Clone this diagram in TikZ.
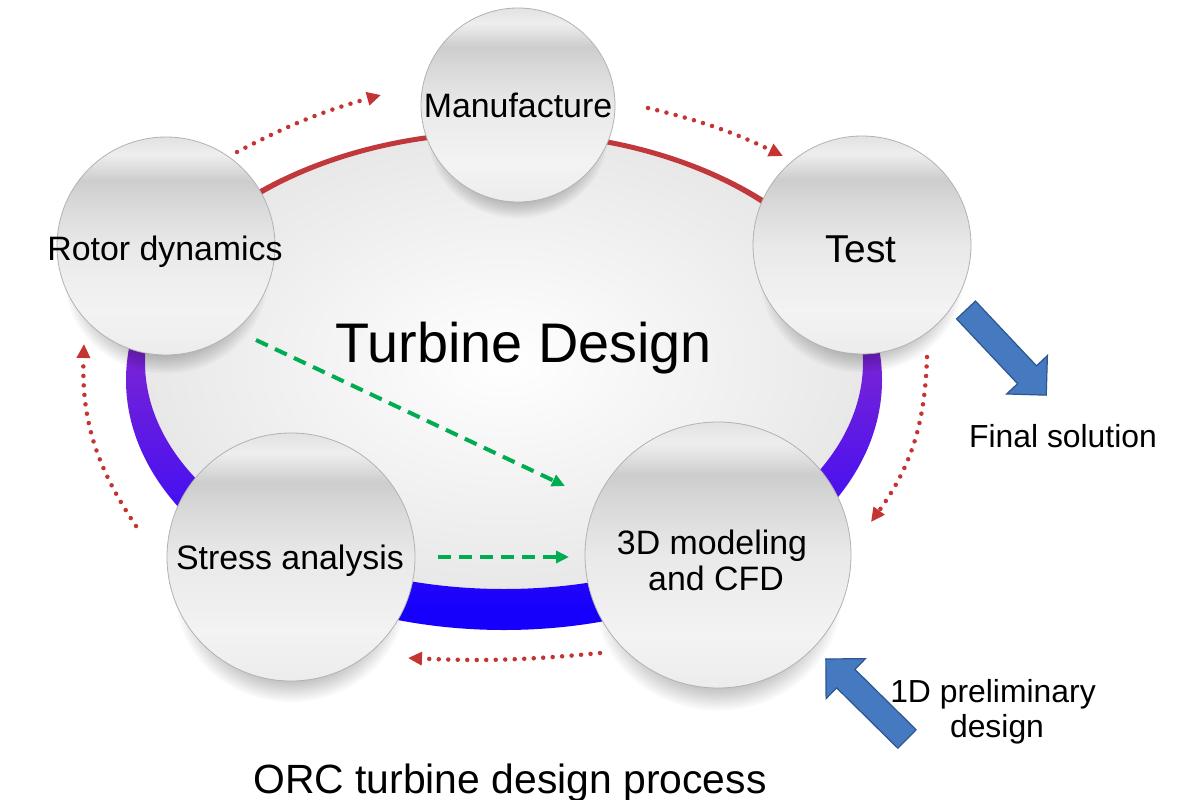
\documentclass[tikz,border=0pt]{standalone}
\usepackage{fontspec}
\setmainfont{Liberation Sans}
\usetikzlibrary{arrows.meta,calc}

\definecolor{bl0}{RGB}{226,226,226}
\definecolor{bl1}{RGB}{238,238,238}
\definecolor{bl2}{RGB}{205,205,205}
\definecolor{bl3}{RGB}{216,216,216}
\definecolor{bl4}{RGB}{233,233,233}
\definecolor{bl5}{RGB}{243,243,243}
\definecolor{bl6}{RGB}{236,236,236}
\definecolor{rb}{RGB}{22,0,252}
\definecolor{rbp}{RGB}{75,18,238}
\definecolor{rp}{RGB}{120,35,215}
\definecolor{rrp}{RGB}{165,45,130}
\definecolor{rr}{RGB}{192,55,60}
\definecolor{redarrow}{RGB}{196,52,50}
\definecolor{greenarrow}{RGB}{0,172,80}
\definecolor{blockblue}{RGB}{70,122,192}
\definecolor{blockedge}{RGB}{45,85,145}
\definecolor{innergray}{RGB}{232,232,232}

\pgfdeclareverticalshading{ballshade}{100bp}{color(0bp)=(bl6); color(25bp)=(bl6); color(35bp)=(bl5); color(50bp)=(bl4); color(60bp)=(bl3); color(65bp)=(bl2); color(71bp)=(bl1); color(75bp)=(bl0); color(100bp)=(bl0)}
\pgfdeclareverticalshading{ringshade}{100bp}{color(0bp)=(rb); color(27bp)=(rb); color(39bp)=(rbp); color(52bp)=(rp); color(62bp)=(rrp); color(68bp)=(rr); color(100bp)=(rr)}

\newcommand\ballshadow[3]{%
  \foreach \s in {1.0,0.98,...,0.6}{%
    \fill[black, opacity=0.022] (#1,{#2+0.3*#3}) ellipse [x radius={0.93*\s*#3*1bp}, y radius={0.87*\s*#3*1bp}];
  }%
}

\tikzset{
  ball/.style={circle, draw=black!30, line width=0.8bp, shading=ballshade, inner sep=0pt},
  lbl/.style={anchor=base, inner sep=0pt, font=\fontsize{34}{40}\selectfont},
  smalllbl/.style={anchor=base, inner sep=0pt, font=\fontsize{32}{38}\selectfont},
  reddot/.style={draw=redarrow, line width=4.5bp, line cap=round, dash pattern=on 0bp off 9.5bp, -{Triangle[length=14bp,width=13bp]}},
  greendash/.style={draw=greenarrow, line width=4bp, dash pattern=on 13bp off 8bp, -{Triangle[length=13bp,width=12bp]}},
  blockarrow/.style={fill=blockblue, draw=blockedge, line width=1.2bp, line join=miter},
}

\begin{document}
\begin{tikzpicture}[x=1bp, y=-1bp]
\useasboundingbox (0,0) rectangle (1200,800);
\fill[white] (0,0) rectangle (1200,800);

% inner background of the cycle
\shade[inner color=white, outer color=innergray] (504,362) ellipse [x radius=359bp, y radius=227bp];

% ring
\shade[shading=ringshade, even odd rule] (504,380) ellipse [x radius=378bp, y radius=250bp] (504,362) ellipse [x radius=359bp, y radius=227bp];

% shadows
\ballshadow{518}{105}{97}
\ballshadow{166}{246}{109}
\ballshadow{862}{245}{109}
\ballshadow{291}{557}{124}
\ballshadow{718}{555}{133}

% spheres
\node[ball, minimum size=194bp] (manu) at (518,105) {};
\node[ball, minimum size=218bp] (rotor) at (166,246) {};
\node[ball, minimum size=218bp] (test) at (862,245) {};
\node[ball, minimum size=248bp] (stress) at (291,557) {};
\node[ball, minimum size=266bp] (cfd) at (718,555) {};

% labels
\node[lbl] (tManu) at (518,118) {Manufacture};
\node[lbl] (tRotor) at (165,260) {Rotor dynamics};
\node[lbl, font=\fontsize{39}{44}\selectfont] (tTest) at (861,262) {Test};
\node[lbl] (tStress) at (290,569) {Stress analysis};
\node[lbl] (tCfdA) at (712,554) {3D modeling};
\node[lbl] (tCfdB) at (716,590) {and CFD};
\node[anchor=base, inner sep=0pt, font=\fontsize{56}{62}\selectfont] (title) at (524,362) {Turbine Design};
\node[anchor=base, inner sep=0pt, font=\fontsize{41}{46}\selectfont] (caption) at (510,793) {ORC turbine design process};
\node[smalllbl] (final) at (1063,447) {Final solution};
\node[smalllbl] (preA) at (993,702) {1D preliminary};
\node[smalllbl] (preB) at (997,737) {design};

% red dotted cycle arrows
\coordinate (r1s) at (237,152); \coordinate (r1e) at (381,95);
\coordinate (r2s) at (648,108); \coordinate (r2e) at (783,156);
\coordinate (r3s) at (927,357); \coordinate (r3e) at (871,522);
\coordinate (r4s) at (600,653); \coordinate (r4e) at (408,658);
\coordinate (r5s) at (136,526); \coordinate (r5e) at (84,344);
\draw[reddot] (r1s) to[bend left=6] (r1e);
\draw[reddot] (r2s) to[bend left=6] (r2e);
\draw[reddot] (r3s) to[bend left=17] (r3e);
\draw[reddot] (r4s) to[bend left=4] (r4e);
\draw[reddot] (r5s) to[bend left=18] (r5e);

% green dashed arrows
\coordinate (g1s) at (256,340); \coordinate (g1e) at (565,486);
\coordinate (g2s) at (438,557); \coordinate (g2e) at (569,557);
\draw[greendash] (g1s) -- (g1e);
\draw[greendash] (g2s) -- (g2e);

% block arrows
\coordinate (fsT) at (966,310);
\draw[blockarrow, shift={(fsT)}, rotate=-46.7] (0,-13) -- (89,-13) -- (89,-28) -- (117,0) -- (89,28) -- (89,13) -- (0,13) -- cycle;
\coordinate (pdT) at (907,739);
\draw[blockarrow, shift={(pdT)}, rotate=135.4] (0,-13) -- (86,-13) -- (86,-28) -- (114,0) -- (86,28) -- (86,13) -- (0,13) -- cycle;
\end{tikzpicture}
\end{document}
